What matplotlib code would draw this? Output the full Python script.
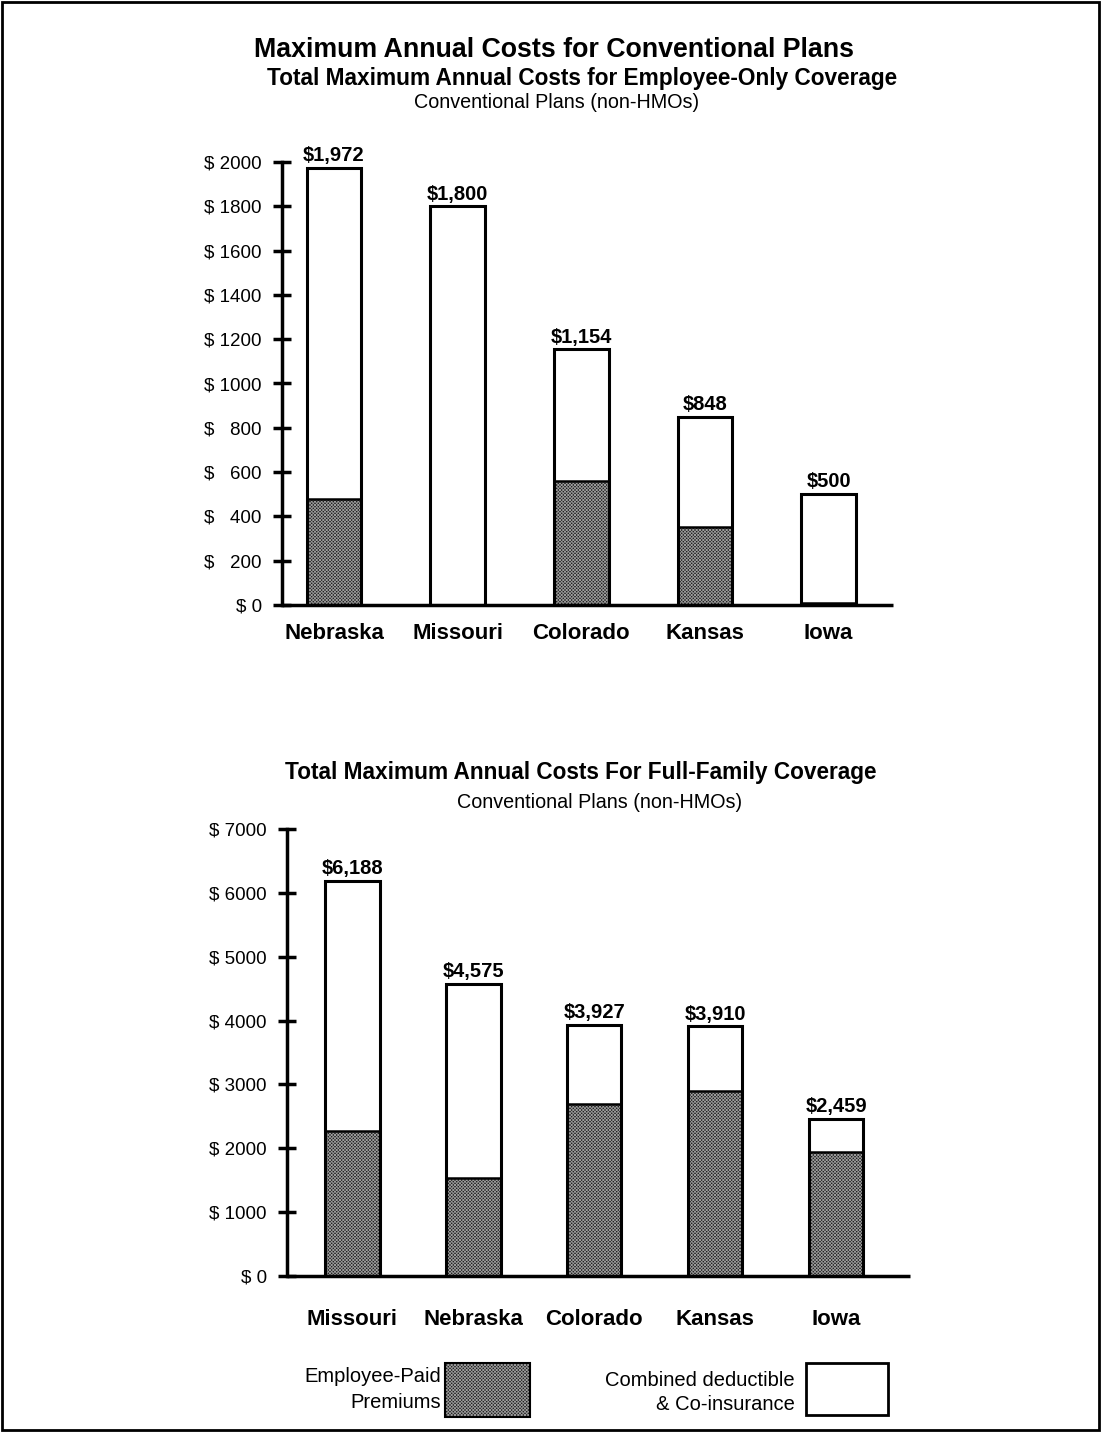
import matplotlib
matplotlib.use("Agg")
import matplotlib.pyplot as plt
from matplotlib.patches import Rectangle

plt.rcParams['font.family'] = ['Liberation Sans', 'DejaVu Sans']
plt.rcParams['hatch.linewidth'] = 0.6

# employee-only coverage
states_top = ['Nebraska', 'Missouri', 'Colorado', 'Kansas', 'Iowa']
total_top = [1972, 1800, 1154, 848, 500]
premium_top = [480, 0, 560, 350, 10]
ticks_top = [0, 200, 400, 600, 800, 1000, 1200, 1400, 1600, 1800, 2000]

# full-family coverage
states_bot = ['Missouri', 'Nebraska', 'Colorado', 'Kansas', 'Iowa']
total_bot = [6188, 4575, 3927, 3910, 2459]
premium_bot = [2270, 1535, 2690, 2900, 1940]
ticks_bot = [0, 1000, 2000, 3000, 4000, 5000, 6000, 7000]

W, H = 1101, 1432
DARK = '#1e1e1e'
DOTS = '#9a9a9a'
HATCH = 'x' * 10


def fx(px):
    return px / W


def fy(py):
    return 1 - py / H


def tick_text(v, pad_small):
    if v == 0:
        return '$ 0'
    if pad_small and v < 1000:
        return '$ \u2007%d' % v
    return '$ %d' % v


def draw_chart(ax, states, total, premium, ticks, ymax, xlim, width, pad_small, label_pad):
    x = range(len(states))
    rest = [t - p for t, p in zip(total, premium)]
    ax.bar(x, premium, width, color=DARK, edgecolor=DOTS, hatch=HATCH, linewidth=0)
    ax.bar(x, rest, width, bottom=premium, color='white', linewidth=0)
    # segment boundary and outline
    ax.bar(x, premium, width, fill=False, edgecolor='black', linewidth=1.8)
    ax.bar(x, total, width, fill=False, edgecolor='black', linewidth=2.2)
    for xi, t in zip(x, total):
        ax.annotate('${:,}'.format(t), (xi, t), xytext=(0, 2), textcoords='offset points',
                    ha='center', va='bottom', fontsize=14.5, fontweight='bold')
    ax.set_xlim(*xlim)
    ax.set_ylim(0, ymax)
    ax.set_xticks(list(x))
    ax.set_xticklabels(states, fontsize=16, fontweight='bold')
    ax.tick_params(axis='x', length=0, pad=label_pad)
    ax.set_yticks(ticks)
    ax.set_yticklabels([tick_text(v, pad_small) for v in ticks], fontsize=13.5)
    ax.tick_params(axis='y', direction='inout', length=13, width=2.5, pad=8)
    for s in ['top', 'right']:
        ax.spines[s].set_visible(False)
    ax.spines['left'].set_linewidth(2.5)
    ax.spines['bottom'].set_linewidth(2.5)
    ax.spines['bottom'].set_capstyle('butt')


fig = plt.figure(figsize=(W / 100, H / 100), dpi=100)

ax1 = fig.add_axes([fx(282), fy(605), fx(893 - 282), (605 - 162) / H])
draw_chart(ax1, states_top, total_top, premium_top, ticks_top, 2000,
           (-0.42, 4.52), 0.44, True, 13)

ax2 = fig.add_axes([fx(287), fy(1276), fx(910 - 287), (1276 - 829) / H])
draw_chart(ax2, states_bot, total_bot, premium_bot, ticks_bot, 7000,
           (-0.54, 4.61), 0.45, False, 24)

# titles
fig.text(fx(554), fy(50), 'Maximum Annual Costs for Conventional Plans',
         ha='center', va='center', fontsize=19.3, fontweight='bold')
fig.text(fx(582), fy(78), 'Total Maximum Annual Costs for Employee-Only Coverage',
         ha='center', va='center', fontsize=16.3, fontweight='bold')
fig.text(fx(557), fy(103), 'Conventional Plans (non-HMOs)',
         ha='center', va='center', fontsize=14.2)
fig.text(fx(581), fy(773), 'Total Maximum Annual Costs For Full-Family Coverage',
         ha='center', va='center', fontsize=16.3, fontweight='bold')
fig.text(fx(600), fy(803), 'Conventional Plans (non-HMOs)',
         ha='center', va='center', fontsize=14.2)

# legend
fig.patches.append(Rectangle((fx(445), fy(1417)), fx(85), 54 / H, transform=fig.transFigure,
                             facecolor=DARK, edgecolor=DOTS, hatch=HATCH, linewidth=0))
fig.patches.append(Rectangle((fx(445), fy(1417)), fx(85), 54 / H, transform=fig.transFigure,
                             fill=False, edgecolor='black', linewidth=1.5))
fig.text(fx(441), fy(1376), 'Employee-Paid', ha='right', va='center', fontsize=14.5)
fig.text(fx(441), fy(1403), 'Premiums', ha='right', va='center', fontsize=14.5)
fig.patches.append(Rectangle((fx(806), fy(1415)), fx(82), 52 / H, transform=fig.transFigure,
                             facecolor='white', edgecolor='black', linewidth=2))
fig.text(fx(795), fy(1380), 'Combined deductible', ha='right', va='center', fontsize=14.5)
fig.text(fx(795), fy(1405), '& Co-insurance', ha='right', va='center', fontsize=14.5)

# page border
fig.patches.append(Rectangle((0.0015, 0.0015), 0.997, 0.997, transform=fig.transFigure,
                             fill=False, edgecolor='black', linewidth=2))

fig.savefig('out.png', dpi=100)
